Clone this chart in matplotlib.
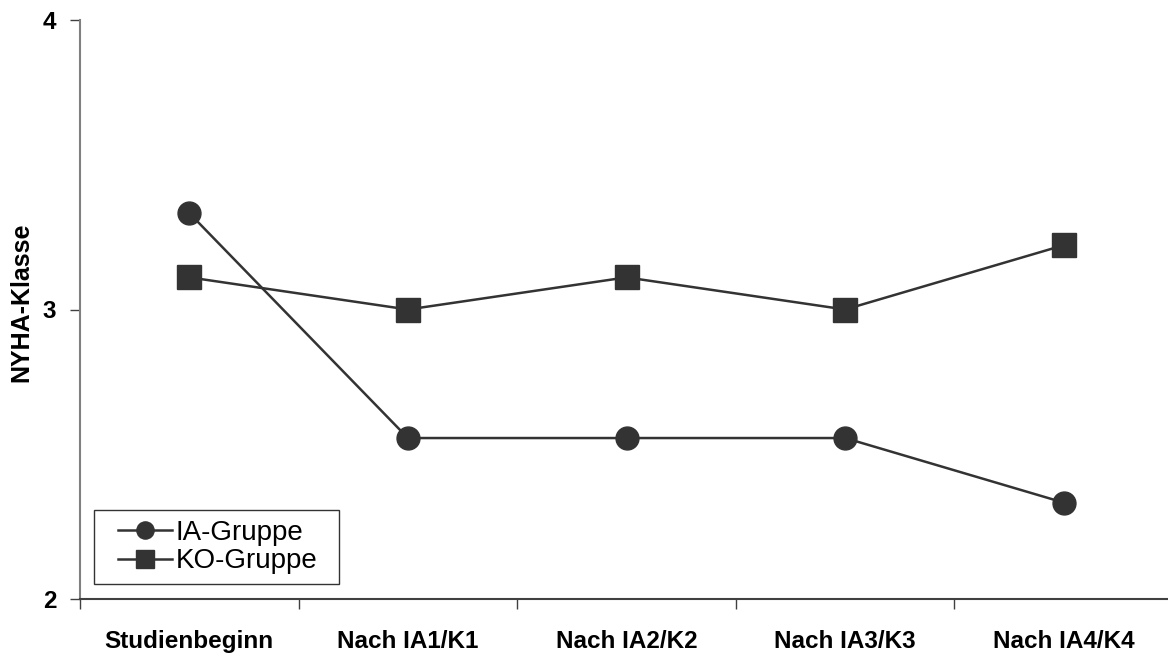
import numpy as np
import matplotlib.pyplot as plt
from matplotlib.legend_handler import HandlerLine2D

plt.rcParams['font.family'] = ['Liberation Sans', 'DejaVu Sans']

# NYHA class per time point
categories = ['Studienbeginn', 'Nach IA1/K1', 'Nach IA2/K2', 'Nach IA3/K3', 'Nach IA4/K4']
ia_gruppe = [3.333, 2.556, 2.556, 2.556, 2.333]
ko_gruppe = [3.111, 3.0, 3.111, 3.0, 3.222]

fig = plt.figure(figsize=(11.68, 6.56), dpi=100)
ax = fig.add_axes([80 / 1168, 1 - 599 / 656, 1093 / 1168, 579 / 656])

x = np.arange(len(categories)) + 0.5
l1, = ax.plot(x, ia_gruppe, color='#333333', lw=1.8, marker='o', ms=16.5,
              label='IA-Gruppe', clip_on=False)
l2, = ax.plot(x, ko_gruppe, color='#333333', lw=1.8, marker='s', ms=16.8,
              label='KO-Gruppe', clip_on=False)

ax.set_xlim(0, len(categories))
ax.set_ylim(2, 4)

# ticks between categories, labels centred under each point
ax.set_xticks(np.arange(len(categories) + 1))
ax.set_xticklabels([])
ax.set_xticks(x, minor=True)
ax.set_xticklabels(categories, minor=True, fontsize=17.5, fontweight='bold')
ax.tick_params(axis='x', which='minor', length=0, pad=22)
ax.tick_params(axis='x', which='major', length=7, width=1, color='#404040', direction='out')

ax.set_yticks([2, 3, 4])
ax.set_yticklabels(['2', '3', '4'], fontsize=17.5, fontweight='bold')
ax.tick_params(axis='y', length=7, width=1, color='#404040', pad=10)

ax.set_ylabel('NYHA-Klasse', fontsize=18, fontweight='bold')
ax.yaxis.set_label_coords(-47 / 1093, 0.513)

for s in ['top', 'right']:
    ax.spines[s].set_visible(False)
ax.spines['left'].set_color('#808080')
ax.spines['left'].set_linewidth(1.5)
ax.spines['bottom'].set_color('#404040')
ax.spines['bottom'].set_linewidth(1.5)

hm = HandlerLine2D(xpad=0.5)
leg = ax.legend(handles=[l1, l2], loc='lower left',
                bbox_to_anchor=(14 / 1093, 15 / 579, 245 / 1093, 70 / 579),
                mode='expand', fontsize=20, frameon=True, fancybox=False,
                handlelength=2.45, handletextpad=0.15, borderpad=0.35,
                labelspacing=0.1, markerscale=0.75, borderaxespad=0,
                handler_map={l1: hm, l2: hm})
leg.get_frame().set_edgecolor('black')
leg.get_frame().set_linewidth(1)

fig.savefig('out.png', dpi=100)
